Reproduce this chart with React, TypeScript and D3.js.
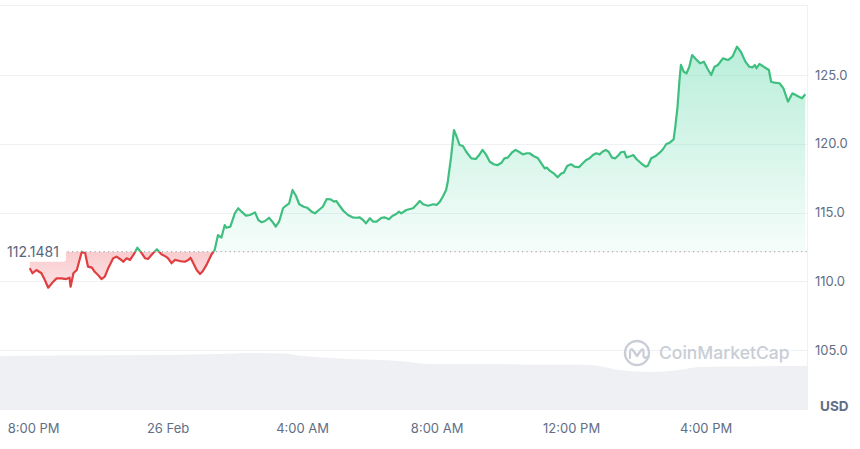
import { useEffect, useRef } from "react";
import * as d3 from "d3";

// minutes after 25 Feb 19:00, price in USD
const minutes = [
  53, 58, 65, 74, 80, 86, 95, 101, 110, 118, 124, 126, 131, 137, 146, 152, 157, 164, 169, 175,
  181, 187, 193, 202, 208, 214, 220, 226, 232, 238, 245, 251, 259, 264, 273, 280, 288, 296, 300, 306,
  312, 321, 330, 336, 340, 345, 351, 357, 362, 369, 377, 383, 389, 395, 401, 404, 411, 419, 425, 431,
  439, 446, 455, 461, 467, 473, 480, 486, 492, 498, 505, 510, 516, 522, 528, 534, 542, 548, 556, 562,
  569, 576, 583, 590, 596, 600, 606, 613, 621, 629, 636, 642, 648, 653, 660, 666, 672, 681, 686, 694,
  700, 707, 712, 716, 725, 737, 744, 749, 755, 764, 773, 779, 785, 790, 796, 799, 805, 810, 815, 820,
  826, 832, 841, 849, 855, 861, 867, 874, 881, 888, 895, 900, 906, 914, 920, 926, 933, 940, 945, 952,
  960, 966, 972, 976, 981, 988, 995, 1002, 1006, 1012, 1019, 1025, 1033, 1040, 1046, 1052, 1058, 1064, 1070, 1075,
  1081, 1086, 1092, 1098, 1104, 1108, 1114, 1118, 1126, 1130, 1136, 1144, 1152, 1156, 1162, 1170, 1177, 1183, 1189, 1195,
  1202, 1205, 1209, 1212, 1215, 1220, 1225, 1230, 1235, 1242, 1249, 1256, 1262, 1269, 1275, 1281, 1290, 1299, 1307, 1315,
  1322, 1330, 1337, 1343, 1347, 1350, 1355, 1361, 1367, 1372, 1376, 1382, 1391, 1398, 1406, 1414, 1423, 1431, 1437
];
const prices = [
  110.94, 110.58, 110.82, 110.58, 110.09, 109.53, 109.97, 110.21, 110.21, 110.16, 110.26, 109.6, 110.58, 110.82, 112.15, 112.03, 111.06, 110.99, 110.69, 110.45,
  110.16, 110.33, 110.94, 111.67, 111.79, 111.62, 111.42, 111.67, 111.55, 111.91, 112.44, 112.15, 111.67, 111.62, 112.03, 112.32, 111.96, 111.79, 111.67, 111.31,
  111.55, 111.47, 111.42, 111.55, 111.71, 111.31, 110.82, 110.53, 110.75, 111.23, 111.91, 112.27, 113.36, 113.17, 114.09, 113.89, 113.97, 114.94, 115.31, 115.06,
  114.77, 114.82, 115.01, 114.45, 114.29, 114.38, 114.62, 114.33, 113.97, 114.33, 115.31, 115.49, 115.67, 116.64, 116.22, 115.6, 115.42, 115.35, 115.06, 114.94,
  115.18, 115.42, 115.98, 115.96, 115.79, 115.84, 115.49, 115.11, 114.82, 114.65, 114.62, 114.65, 114.45, 114.21, 114.58, 114.33, 114.33, 114.62, 114.65, 114.51,
  114.75, 114.89, 115.06, 114.94, 115.18, 115.31, 115.6, 115.84, 115.6, 115.49, 115.6, 115.55, 115.79, 116.15, 116.64, 117.24, 119.06, 121.0, 120.51, 119.91,
  119.84, 119.42, 118.94, 118.89, 119.18, 119.55, 119.23, 118.69, 118.51, 118.45, 118.62, 118.94, 118.99, 119.38, 119.55, 119.42, 119.23, 119.31, 119.31, 119.11,
  118.94, 118.58, 118.21, 118.26, 118.04, 117.85, 117.56, 117.85, 117.89, 118.38, 118.51, 118.33, 118.29, 118.58, 118.82, 118.94, 119.18, 119.31, 119.23, 119.42,
  119.55, 119.42, 118.99, 118.94, 119.18, 119.38, 119.42, 119.01, 119.11, 119.18, 118.87, 118.58, 118.33, 118.4, 118.94, 119.11, 119.35, 119.6, 119.98, 120.08,
  120.32, 121.24, 122.69, 124.4, 125.73, 125.24, 125.12, 125.6, 126.45, 126.14, 125.85, 125.97, 125.49, 125.0, 125.6, 125.73, 126.21, 126.09, 126.33, 127.06,
  126.69, 125.97, 125.6, 125.56, 125.73, 125.49, 125.8, 125.65, 125.49, 125.36, 124.51, 124.44, 124.4, 124.03, 123.06, 123.67, 123.47, 123.31, 123.6
];

const volumeMinutes = [0, 107, 267, 392, 446, 508, 526, 588, 713, 767, 856, 963, 1034, 1070, 1105, 1159, 1212, 1248, 1440];
const volumes = [54, 54.5, 55, 56, 57, 56.5, 55, 52, 49, 46, 46, 45.5, 45.5, 44, 40, 38, 40, 43, 44];

const yTicks = [105, 110, 115, 120, 125];
const baseline = 112.1481;
const startTime = new Date(2024, 1, 25, 19, 0);

const green = "#3fbf7f";
const red = "#df3f40";
const gridColor = "#eff2f5";
const textColor = "#616e85";

const at = (m: number) => new Date(startTime.getTime() + m * 60000);

export default function App() {
  const ref = useRef<SVGSVGElement | null>(null);

  useEffect(() => {
    if (!ref.current) return;
    const svg = d3.select(ref.current);
    svg.selectAll("*").remove();

    const width = 860;
    const height = 449;
    const right = 807;

    const x = d3.scaleTime().domain([at(0), at(1440)]).range([0, right]);
    const y = d3.scaleLinear().domain([105, 125]).range([350, 75]);
    const yv = d3.scaleLinear().domain([0, 60]).range([410, 350]);
    const yBase = y(baseline);

    const pts = minutes.map((m, i) => ({ t: at(m), p: prices[i] }));
    const vol = volumeMinutes.map((m, i) => ({ t: at(m), v: volumes[i] }));

    svg.attr("width", width).attr("height", height).attr("viewBox", `0 0 ${width} ${height}`);

    const defs = svg.append("defs");
    defs.append("clipPath").attr("id", "above")
      .append("rect").attr("x", 0).attr("y", 0).attr("width", right).attr("height", yBase);
    defs.append("clipPath").attr("id", "below")
      .append("rect").attr("x", 0).attr("y", yBase).attr("width", right).attr("height", 410 - yBase);

    const gg = defs.append("linearGradient").attr("id", "gGreen")
      .attr("gradientUnits", "userSpaceOnUse").attr("x1", 0).attr("x2", 0)
      .attr("y1", y(127)).attr("y2", yBase);
    gg.append("stop").attr("offset", 0).attr("stop-color", "#16c784").attr("stop-opacity", 0.3);
    gg.append("stop").attr("offset", 1).attr("stop-color", "#16c784").attr("stop-opacity", 0.04);

    const rg = defs.append("linearGradient").attr("id", "gRed")
      .attr("gradientUnits", "userSpaceOnUse").attr("x1", 0).attr("x2", 0)
      .attr("y1", yBase).attr("y2", y(109.5));
    rg.append("stop").attr("offset", 0).attr("stop-color", "#ea3943").attr("stop-opacity", 0.26);
    rg.append("stop").attr("offset", 1).attr("stop-color", "#ea3943").attr("stop-opacity", 0.14);

    // volume
    svg.append("path")
      .datum(vol)
      .attr("fill", "#eff0f3")
      .attr("d", d3.area<{ t: Date; v: number }>()
        .x((d) => x(d.t)).y0(410).y1((d) => yv(d.v))
        .curve(d3.curveMonotoneX));

    // grid
    svg.append("line").attr("x1", 0).attr("x2", right).attr("y1", 5.5).attr("y2", 5.5)
      .attr("stroke", gridColor);
    svg.selectAll("line.grid")
      .data(yTicks)
      .join("line")
      .attr("class", "grid")
      .attr("x1", 0).attr("x2", right)
      .attr("y1", (d) => Math.round(y(d)) + 0.5).attr("y2", (d) => Math.round(y(d)) + 0.5)
      .attr("stroke", gridColor);
    svg.append("line").attr("x1", right + 0.5).attr("x2", right + 0.5).attr("y1", 5).attr("y2", 410)
      .attr("stroke", gridColor);

    // watermark
    const wm = svg.append("g").attr("transform", "translate(637,353)");
    wm.append("circle").attr("r", 12).attr("fill", "none").attr("stroke", "#c9cdd6").attr("stroke-width", 2.4);
    wm.append("path")
      .attr("d", "M-7,5 L-7,-1 Q-6.5,-6 -3.5,-2 L0,3 L3.5,-2 Q6.5,-6 6.5,-1 L6.5,3 Q7,6 10,4")
      .attr("fill", "none").attr("stroke", "#c9cdd6").attr("stroke-width", 2.2)
      .attr("stroke-linejoin", "round").attr("stroke-linecap", "round");
    svg.append("text")
      .attr("x", 659).attr("y", 354)
      .attr("dominant-baseline", "middle")
      .attr("font-size", 17.5).attr("font-weight", 500)
      .attr("fill", "#c9cdd6")
      .text("CoinMarketCap");

    const area = d3.area<{ t: Date; p: number }>()
      .x((d) => x(d.t)).y0(yBase).y1((d) => y(d.p));
    const line = d3.line<{ t: Date; p: number }>()
      .x((d) => x(d.t)).y((d) => y(d.p));

    svg.append("path").datum(pts).attr("clip-path", "url(#above)")
      .attr("fill", "url(#gGreen)").attr("d", area);
    svg.append("path").datum(pts).attr("clip-path", "url(#below)")
      .attr("fill", "url(#gRed)").attr("d", area);

    // baseline
    svg.append("line")
      .attr("x1", 0).attr("x2", right).attr("y1", yBase).attr("y2", yBase)
      .attr("stroke", "#a6adb9").attr("stroke-width", 1.2).attr("stroke-dasharray", "1.2,3.3");

    svg.append("path").datum(pts).attr("clip-path", "url(#above)")
      .attr("fill", "none").attr("stroke", green).attr("stroke-width", 2.2)
      .attr("stroke-linejoin", "round").attr("d", line);
    svg.append("path").datum(pts).attr("clip-path", "url(#below)")
      .attr("fill", "none").attr("stroke", red).attr("stroke-width", 2.2)
      .attr("stroke-linejoin", "round").attr("d", line);

    // baseline label
    svg.append("rect")
      .attr("x", 0).attr("y", yBase - 10).attr("width", 66).attr("height", 20).attr("rx", 3)
      .attr("fill", "#fff");
    svg.append("text")
      .attr("x", 7).attr("y", yBase + 1)
      .attr("dominant-baseline", "middle")
      .attr("font-size", 14).attr("fill", "#58667e")
      .text(baseline.toFixed(4));

    // y axis labels
    svg.selectAll("text.ytick")
      .data(yTicks)
      .join("text")
      .attr("class", "ytick")
      .attr("x", 815).attr("y", (d) => y(d) + 1)
      .attr("dominant-baseline", "middle")
      .attr("font-size", 13).attr("fill", textColor)
      .text((d) => d3.format(".1f")(d));
    svg.append("text")
      .attr("x", 820).attr("y", 407)
      .attr("dominant-baseline", "middle")
      .attr("font-size", 13.5).attr("font-weight", 700).attr("fill", "#616e85")
      .text("USD");

    // x axis labels
    const fmtTime = d3.timeFormat("%-I:%M %p");
    const fmtDay = d3.timeFormat("%-d %b");
    const xTicks = x.ticks(d3.timeHour.every(4)!);
    svg.selectAll("text.xtick")
      .data(xTicks)
      .join("text")
      .attr("class", "xtick")
      .attr("x", (d) => x(d)).attr("y", 429)
      .attr("text-anchor", "middle").attr("dominant-baseline", "middle")
      .attr("font-size", 13).attr("fill", textColor)
      .text((d) => (d.getHours() === 0 ? fmtDay(d) : fmtTime(d)));
  }, []);

  return (
    <>
      <style>{`body{margin:0}`}</style>
      <svg ref={ref} style={{ display: "block", fontFamily: "Inter, 'Noto Sans', sans-serif" }} />
    </>
  );
}
